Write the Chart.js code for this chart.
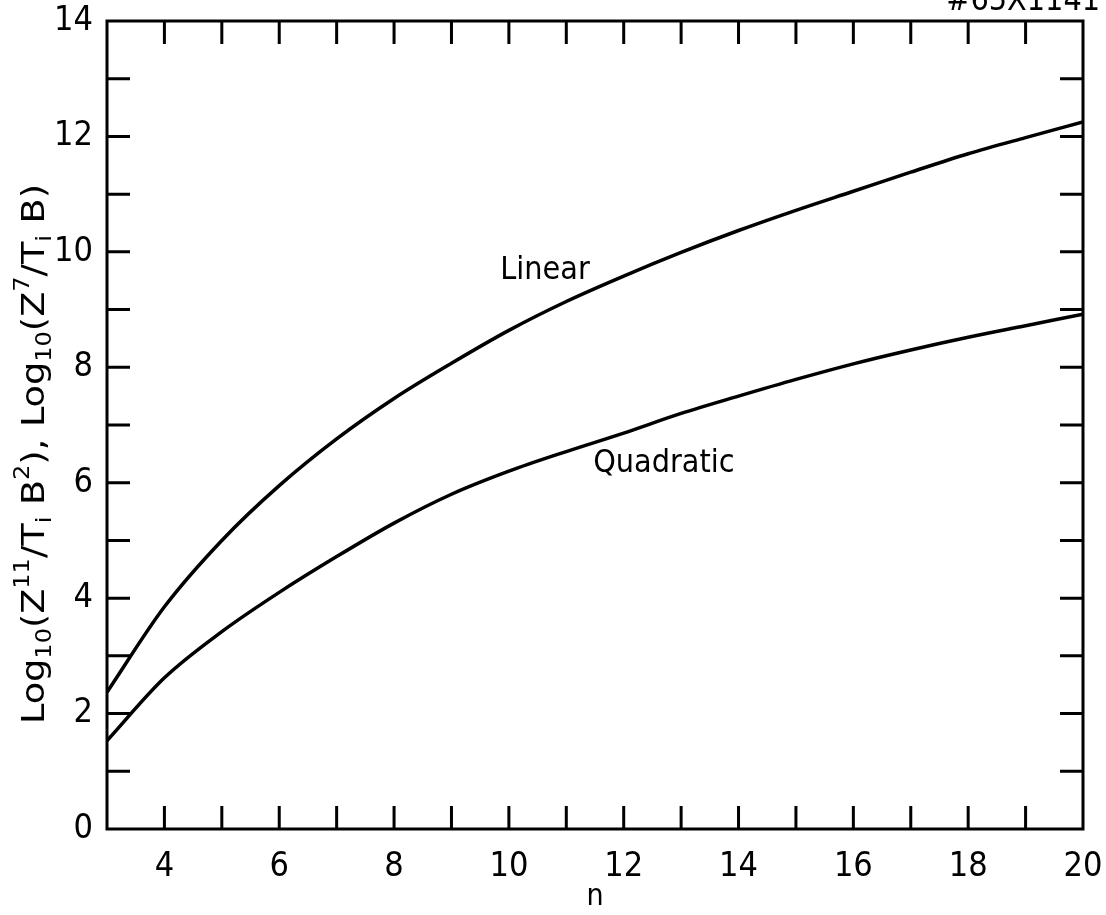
<!DOCTYPE html>
<html>
<head>
<meta charset="utf-8">
<script src="https://cdn.jsdelivr.net/npm/chart.js@4.4.1/dist/chart.umd.min.js"></script>
<style>
  html, body { margin: 0; padding: 0; background: #fff; }
  #box { width: 1106px; height: 915px; }
</style>
</head>
<body>
<div id="box"><canvas id="grafico"></canvas></div>
<script>
// --- dados ---
const nValues = [3, 4, 5, 6, 7, 8, 9, 10, 11, 12, 13, 14, 15, 16, 17, 18, 19, 20];
const linear = [2.37, 3.85, 5.0, 5.95, 6.76, 7.46, 8.07, 8.64, 9.14, 9.58, 9.99, 10.37, 10.72, 11.05, 11.38, 11.7, 11.98, 12.25];
const quadratic = [1.53, 2.62, 3.42, 4.1, 4.72, 5.3, 5.8, 6.2, 6.54, 6.86, 7.2, 7.5, 7.79, 8.06, 8.3, 8.52, 8.72, 8.92];
const xTickLabels = [4, 6, 8, 10, 12, 14, 16, 18, 20];
const yTickLabels = [0, 2, 4, 6, 8, 10, 12, 14];
const curveLabels = [
  { text: 'Linear', n: 10.63, v: 9.68 },
  { text: 'Quadratic', n: 12.7, v: 6.33 }
];

const FONTE = '"DejaVu Sans Condensed", "Liberation Sans Narrow", "Liberation Sans", sans-serif';

function pontos(valores) {
  return nValues.map((n, i) => ({ x: n, y: valores[i] }));
}

// moldura com marcas para dentro nos quatro lados
const moldura = {
  id: 'moldura',
  afterDatasetsDraw(chart) {
    const ctx = chart.ctx;
    const a = chart.chartArea;
    const xs = chart.scales.x, ys = chart.scales.y;
    const tam = 23;
    ctx.save();
    ctx.strokeStyle = '#000';
    ctx.lineWidth = 3;
    ctx.strokeRect(a.left, a.top, a.right - a.left, a.bottom - a.top);
    ctx.beginPath();
    for (let n = 4; n < 20; n++) {
      const px = xs.getPixelForValue(n);
      ctx.moveTo(px, a.bottom); ctx.lineTo(px, a.bottom - tam);
      ctx.moveTo(px, a.top); ctx.lineTo(px, a.top + tam);
    }
    for (let v = 1; v < 14; v++) {
      const py = ys.getPixelForValue(v);
      ctx.moveTo(a.left, py); ctx.lineTo(a.left + tam, py);
      ctx.moveTo(a.right, py); ctx.lineTo(a.right - tam, py);
    }
    ctx.stroke();

    // nomes das curvas
    ctx.fillStyle = '#000';
    ctx.font = '32px ' + FONTE;
    ctx.textAlign = 'center';
    ctx.textBaseline = 'middle';
    curveLabels.forEach(l => {
      ctx.fillText(l.text, xs.getPixelForValue(l.n), ys.getPixelForValue(l.v));
    });

    // número da figura (cortado no topo)
    ctx.font = '32px ' + FONTE;
    ctx.textAlign = 'right';
    ctx.textBaseline = 'alphabetic';
    ctx.fillText('#65X1141', 1100, 10);

    // título do eixo y com índices, esticado para o comprimento do original
    const partes = [
      ['Log', 0], ['10', 1], ['(Z', 0], ['11', -1], ['/T', 0], ['i', 1], [' B', 0], ['2', -1],
      ['), Log', 0], ['10', 1], ['(Z', 0], ['7', -1], ['/T', 0], ['i', 1], [' B)', 0]
    ];
    const grande = '32px ' + FONTE, pequeno = '21px ' + FONTE;
    let total = 0;
    partes.forEach(p => { ctx.font = p[1] ? pequeno : grande; total += ctx.measureText(p[0]).width; });
    const esticar = 540 / total;
    ctx.translate(36, 454);
    ctx.rotate(-Math.PI / 2);
    ctx.scale(esticar, 1);
    ctx.textAlign = 'left';
    ctx.textBaseline = 'middle';
    let x = -total / 2;
    partes.forEach(p => {
      ctx.font = p[1] ? pequeno : grande;
      const dy = p[1] === 1 ? 10 : (p[1] === -1 ? -12 : 0);
      ctx.fillText(p[0], x, dy);
      x += ctx.measureText(p[0]).width;
    });
    ctx.restore();
  }
};

const ctx = document.getElementById('grafico').getContext('2d');
const chart = new Chart(ctx, {
  type: 'line',
  data: {
    datasets: [
      { label: 'Linear', data: pontos(linear), borderColor: '#000', borderWidth: 3.5, pointRadius: 0, tension: 0, cubicInterpolationMode: 'monotone', fill: false },
      { label: 'Quadratic', data: pontos(quadratic), borderColor: '#000', borderWidth: 3.5, pointRadius: 0, tension: 0, cubicInterpolationMode: 'monotone', fill: false }
    ]
  },
  options: {
    responsive: true,
    maintainAspectRatio: false,
    animation: false,
    layout: { padding: { top: 21, right: 23, left: 0, bottom: 0 } },
    plugins: { legend: { display: false }, tooltip: { enabled: false } },
    scales: {
      x: {
        type: 'linear',
        min: 3, max: 20,
        grid: { display: false },
        border: { display: false },
        ticks: {
          stepSize: 1, autoSkip: false, maxRotation: 0, padding: 10,
          color: '#000', font: { size: 34, family: FONTE },
          callback: v => xTickLabels.includes(v) ? String(v) : ''
        },
        title: { display: true, text: 'n', color: '#000', font: { size: 30, family: FONTE }, padding: { top: 0, bottom: 0 } },
        afterFit(scale) { scale.height = 86; scale.paddingLeft = 0; scale.paddingRight = 0; }
      },
      y: {
        type: 'linear',
        min: 0, max: 14,
        grid: { display: false },
        border: { display: false },
        ticks: {
          stepSize: 1, autoSkip: false, padding: 6,
          color: '#000', font: { size: 34, family: FONTE },
          callback: v => yTickLabels.includes(v) ? String(v) : ''
        },
        afterFit(scale) { scale.width = 107; scale.paddingTop = 0; scale.paddingBottom = 0; }
      }
    }
  },
  plugins: [moldura]
});
</script>
</body>
</html>
